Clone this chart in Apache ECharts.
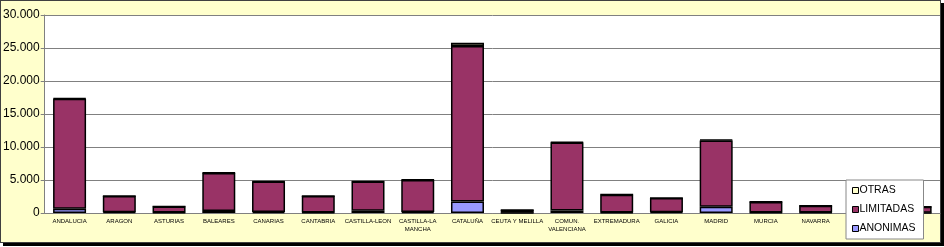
<!DOCTYPE html>
<html><head><meta charset="utf-8">
<script src="https://cdn.jsdelivr.net/npm/echarts@6/dist/echarts.min.js"></script>
<style>
html,body{margin:0;padding:0;width:944px;height:247px;overflow:hidden;background:#fff;}
#frame{position:absolute;left:0;top:0;width:939px;height:241px;border:1px solid #404040;background:#FFFFCC;box-shadow:3px 3px 0 #000;}
#chart{position:absolute;left:0;top:0;width:944px;height:247px;}
</style></head>
<body>
<div id="frame"></div>
<div id="chart"></div>
<script>
var categories = ['ANDALUCIA','ARAGON','ASTURIAS','BALEARES','CANARIAS','CANTABRIA','CASTILLA-LEON','CASTILLA-LA\nMANCHA','CATALUÑA','CEUTA Y MELILLA','COMUN.\nVALENCIANA','EXTREMADURA','GALICIA','MADRID','MURCIA','NAVARRA','PAIS VASCO','RIOJA'];
var anonimas  = [650, 120, 60, 300, 170, 80, 330, 150, 1750, 30, 380, 80, 120, 950, 60, 60, 200, 30];
var limitadas = [16670, 2460, 930, 5760, 4590, 2505, 4430, 4860, 23550, 415, 10290, 2700, 2140, 10050, 1625, 1030, 2670, 915];
var otras     = [80, 20, 10, 40, 40, 15, 40, 40, 500, 5, 80, 20, 20, 100, 15, 10, 30, 5];
var yTicks = [0, 5000, 10000, 15000, 20000, 25000, 30000];

function fmt(v){ return String(v).replace(/\B(?=(\d{3})+(?!\d))/g, '.'); }

var chart = echarts.init(document.getElementById('chart'), null, {renderer:'canvas'});
var border = {borderColor:'#000', borderWidth:1.5};
chart.setOption({
  animation:false,
  backgroundColor:'transparent',
  grid:{left:43, right:4, top:15, bottom:34, show:true, backgroundColor:'#fff', borderWidth:0},
  legend:{
    data:['OTRAS','LIMITADAS','ANONIMAS'],
    orient:'vertical', left:846, top:180,
    width:73,
    backgroundColor:'#fff', borderColor:'#888', borderWidth:1,
    padding:[5,8,5,6], itemGap:8, itemWidth:6, itemHeight:6,
    icon:'rect',
    textStyle:{fontFamily:'Liberation Sans, Arial', fontSize:10.5, color:'#000', padding:[0,0,0,-4]},
    itemStyle:{borderColor:'#000', borderWidth:1}
  },
  xAxis:{
    type:'category', data:categories,
    axisLine:{lineStyle:{color:'#808080', width:1}},
    axisTick:{show:false},
    axisLabel:{interval:0, fontSize:6, fontFamily:'Liberation Sans, Arial', color:'#000', margin:4, lineHeight:8}
  },
  yAxis:{
    type:'value', min:yTicks[0], max:yTicks[yTicks.length-1], interval:5000,
    axisLine:{show:true, lineStyle:{color:'#808080'}},
    axisTick:{show:true, length:4, lineStyle:{color:'#808080'}},
    splitLine:{lineStyle:{color:'#808080', width:1}},
    axisLabel:{formatter:fmt, fontSize:12, fontFamily:'Liberation Sans, Arial', color:'#000', margin:5}
  },
  series:[
    {name:'ANONIMAS', type:'bar', stack:'t', data:anonimas, barWidth:33, itemStyle:Object.assign({color:'#9999FF'}, border)},
    {name:'LIMITADAS', type:'bar', stack:'t', data:limitadas, barWidth:33, itemStyle:Object.assign({color:'#993366'}, border)},
    {name:'OTRAS', type:'bar', stack:'t', data:otras, barWidth:33, itemStyle:Object.assign({color:'#FFFFCC'}, border)}
  ]
});
</script>
</body></html>
